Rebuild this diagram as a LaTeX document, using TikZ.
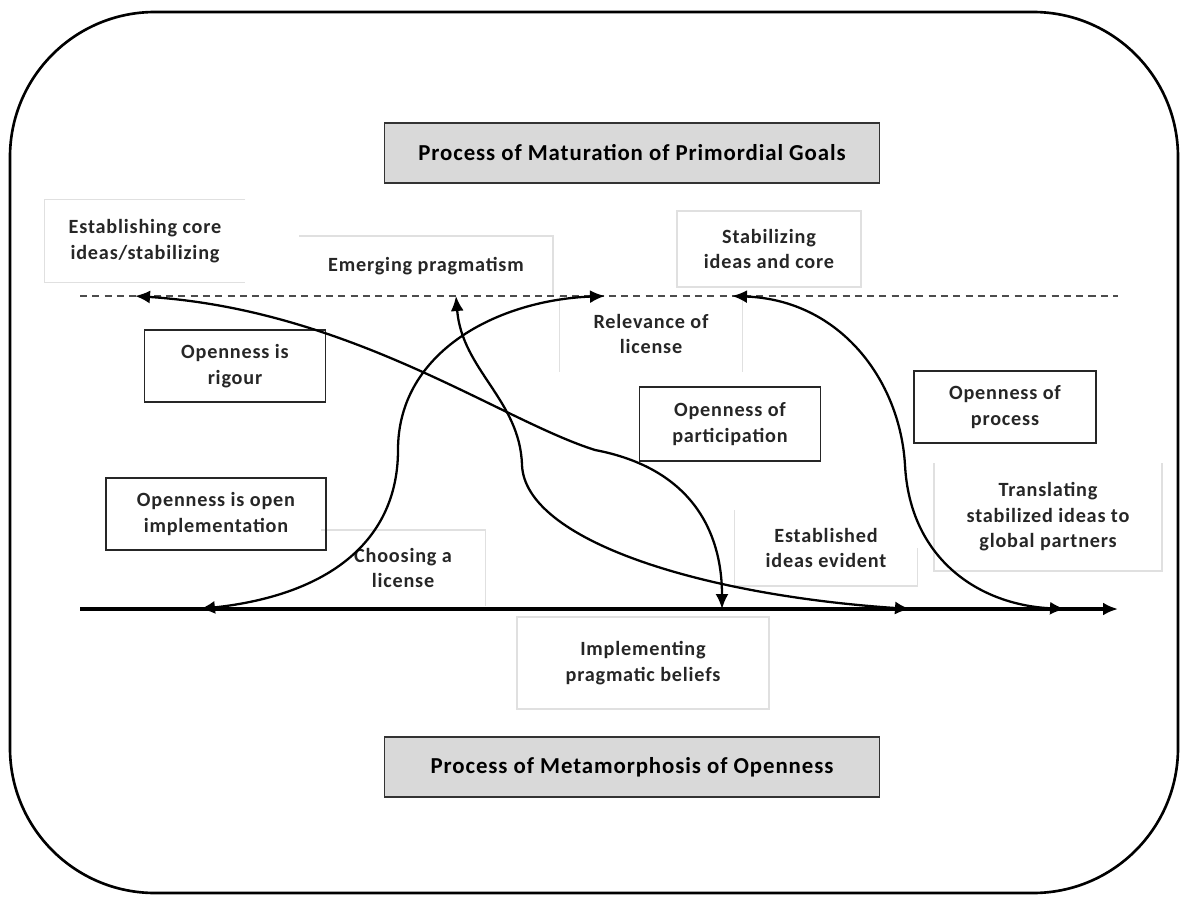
\documentclass[tikz,border=0pt]{standalone}
\usepackage{fontspec}
\setmainfont{Carlito}[LetterSpace=4]
\usetikzlibrary{arrows.meta}
\tikzstyle{frame}=[draw, line width=1.5pt, rounded corners=2.9cm]
\tikzstyle{goal}=[draw=black!80, fill=black!15, line width=1pt,
  minimum width=9.9cm, minimum height=1.2cm,
  font=\fontsize{13pt}{15pt}\selectfont\bfseries]
\tikzstyle{openness}=[draw=black!85, line width=1pt, align=center,
  minimum width=3.62cm, minimum height=1.44cm, text=black!85,
  font=\fontsize{11.5pt}{14.5pt}\selectfont\bfseries]
\tikzstyle{stage}=[align=center, text=black!85,
  font=\fontsize{11.5pt}{14.5pt}\selectfont\bfseries]
\tikzstyle{rim}=[draw=black!12, line width=0.8pt]
\tikzstyle{flow}=[draw, line width=1.3pt,
  {Latex[length=3mm,width=2.6mm]}-{Latex[length=3mm,width=2.6mm]}]
\tikzstyle{level}=[draw=black!70, line width=1.2pt, dash pattern=on 4pt off 3pt]
\tikzstyle{axis}=[draw, line width=1.8pt, -{Latex[length=3mm,width=2.6mm]}]

\begin{document}
\begin{tikzpicture}[x=0.02cm,y=-0.02cm]
  \useasboundingbox (0,0) rectangle (1188,903);

  % Frame
  \path [frame] (10,12) rectangle (1178,893);

  % Titles
  \node (matur) [goal] at (632,153) {Process of Maturation of Primordial Goals};
  \node (metam) [goal] at (632,767) {Process of Metamorphosis of Openness};

  % Stages
  \node (estab) [stage, minimum width=4cm, minimum height=1.64cm] at (145,241)
    {Establishing core\\ideas/stabilizing};
  \node (emerg) [stage, minimum width=5.06cm, minimum height=1.18cm] at (426,266)
    {Emerging pragmatism};
  \node (stab) [stage, minimum width=3.66cm, minimum height=1.5cm] at (769,249)
    {Stabilizing\\ideas and core};
  \node (relev) [stage, minimum width=3.64cm, minimum height=1.52cm] at (651,334)
    {Relevance of\\license};
  \node (choos) [stage, minimum width=3.28cm, minimum height=1.5cm] at (403,568)
    {Choosing a\\license};
  \node (evid) [stage, minimum width=3.64cm, minimum height=1.5cm] at (826,548)
    {Established\\ideas evident};
  \node (transl) [stage, minimum width=4.54cm, minimum height=2.14cm] at (1048,517)
    {Translating\\stabilized ideas to\\global partners};
  \node (impl) [stage, minimum width=5.02cm, minimum height=1.82cm] at (643,663)
    {Implementing\\pragmatic beliefs};

  % Faint edges of the stages
  \path [rim] (estab.north east) -- (estab.north west) -- (estab.south west) -- (estab.south east);
  \path [rim] (emerg.north west) -- (emerg.north east) -- (emerg.south east);
  \path [rim] (stab.north west) rectangle (stab.south east);
  \path [rim] (relev.north west) -- (relev.south west);
  \path [rim] (relev.north east) -- (relev.south east);
  \path [rim] (choos.north west) -- (choos.north east) -- (choos.south east);
  \path [rim] (evid.north west) -- (evid.south west) -- (evid.south east) -- (evid.east);
  \path [rim] (transl.north west) -- (transl.south west) -- (transl.south east) -- (transl.north east);
  \path [rim] (impl.north west) rectangle (impl.south east);

  % Openness
  \node (rigour) [openness] at (235,366) {Openness is\\rigour};
  \node (partic) [openness, minimum height=1.48cm] at (730,424) {Openness of\\participation};
  \node (proc) [openness, minimum width=3.64cm] at (1005,407) {Openness of\\process};
  \node (openimpl) [openness, minimum width=4.4cm] at (216,514) {Openness is open\\implementation};

  % Levels
  \coordinate (dashL) at (80,296);
  \coordinate (dashR) at (1118,296);
  \coordinate (axisL) at (80,609);
  \coordinate (axisR) at (1118,609);
  \path [level] (dashL) -- (dashR);
  \path [axis] (axisL) -- (axisR);

  % Ends of the curves
  \coordinate (aLow) at (200,609);
  \coordinate (aHigh) at (605,296);
  \coordinate (bHigh) at (135,296);
  \coordinate (bLow) at (722,609);
  \coordinate (cHigh) at (456,296);
  \coordinate (cLow) at (910,609);
  \coordinate (dHigh) at (732,296);
  \coordinate (dLow) at (1065,609);

  % Draw curves
  \path [flow] (aLow) .. controls (330,595) and (398,540) .. (398,450)
    .. controls (398,350) and (500,300) .. (aHigh);
  \path [flow] (bHigh) .. controls (350,310) and (500,420) .. (595,450)
    .. controls (690,468) and (722,530) .. (bLow);
  \path [flow] (cHigh) .. controls (462,370) and (520,400) .. (522,465)
    .. controls (525,540) and (700,595) .. (cLow);
  \path [flow] (dHigh) .. controls (840,300) and (900,380) .. (905,465)
    .. controls (910,560) and (980,605) .. (dLow);

\end{tikzpicture}
\end{document}
